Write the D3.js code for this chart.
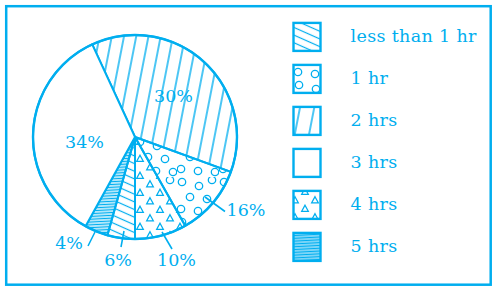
<!DOCTYPE html>
<html><head><meta charset="utf-8">
<script src="https://cdn.jsdelivr.net/npm/d3@7"></script>
<style>html,body{margin:0;padding:0;background:#fff;}svg{display:block;}</style>
</head><body>
<svg id="chart" width="498" height="289"></svg>
<script>
// ---- data (order around the pie, clockwise from the top-left boundary) ----
const categories   = ["2 hrs", "1 hr", "4 hrs", "less than 1 hr", "5 hrs", "3 hrs"];
const percentages  = [30, 16, 10, 6, 4, 34];
// slice sizes as drawn in the picture (degrees of arc)
const drawnDegrees = [134.8, 40.5, 29.5, 15.7, 13.3, 126.2];
const legendLabels = ["less than 1 hr", "1 hr", "2 hrs", "3 hrs", "4 hrs", "5 hrs"];
const percentLabels = percentages.map(p => p + "%");

// ---- layout / style ----
const C = "#00aeef";
const W = 498, H = 289;
const cx = 135, cy = 137, R = 102;
const startDeg = -24.8;
const FONT = "'DejaVu Serif', serif";

const svg = d3.select("#chart");
const defs = svg.append("defs");

const patternKind = {
  "2 hrs": "diag", "1 hr": "circles", "4 hrs": "tri",
  "less than 1 hr": "shallow", "5 hrs": "hlines", "3 hrs": "none"
};

function makePattern(id, kind, legend) {
  if (kind === "none") return;
  let p;
  if (kind === "diag") {
    const s = legend ? 14 : 12;
    p = defs.append("pattern").attr("id", id).attr("patternUnits", "userSpaceOnUse")
      .attr("width", s).attr("height", s).attr("patternTransform", "rotate(11)");
    p.append("line").attr("x1", s / 2).attr("x2", s / 2).attr("y1", -1).attr("y2", s + 1)
      .attr("stroke", C).attr("stroke-width", 1.4);
  } else if (kind === "shallow") {
    const s = 7;
    p = defs.append("pattern").attr("id", id).attr("patternUnits", "userSpaceOnUse")
      .attr("width", s).attr("height", s).attr("patternTransform", "rotate(24)");
    p.append("line").attr("x1", -1).attr("x2", s + 1).attr("y1", s / 2).attr("y2", s / 2)
      .attr("stroke", C).attr("stroke-width", 1.2);
  } else if (kind === "hlines") {
    const s = 2.8;
    p = defs.append("pattern").attr("id", id).attr("patternUnits", "userSpaceOnUse")
      .attr("width", 10).attr("height", s).attr("patternTransform", "rotate(-3)");
    p.append("line").attr("x1", -1).attr("x2", 11).attr("y1", s / 2).attr("y2", s / 2)
      .attr("stroke", C).attr("stroke-width", legend ? 1.9 : 1.5);
  } else if (kind === "circles") {
    p = defs.append("pattern").attr("id", id).attr("patternUnits", "userSpaceOnUse")
      .attr("width", 42).attr("height", 40);
    const pts = [[5,5],[22,9],[35,3],[13,20],[30,22],[4,32],[21,34],[38,35]];
    pts.forEach(([x, y]) => p.append("circle").attr("cx", x).attr("cy", y).attr("r", 3.7)
      .attr("fill", "none").attr("stroke", C).attr("stroke-width", 1.3));
  } else if (kind === "tri") {
    p = defs.append("pattern").attr("id", id).attr("patternUnits", "userSpaceOnUse")
      .attr("width", 20).attr("height", 17);
    [[5, 4.5], [15, 13]].forEach(([x, y]) => p.append("path")
      .attr("d", `M${x},${y - 3.3}L${x + 3.3},${y + 2.8}L${x - 3.3},${y + 2.8}Z`)
      .attr("fill", "none").attr("stroke", C).attr("stroke-width", 1.3));
  }
}

categories.forEach((c, i) => {
  makePattern("p" + i, patternKind[c], false);
  makePattern("lp" + i, patternKind[c], true);
});
const fillFor = (c, legend) => {
  const i = categories.indexOf(c);
  return patternKind[c] === "none" ? "#fff" : `url(#${legend ? "lp" : "p"}${i})`;
};

// frame
svg.append("rect").attr("x", 6.2).attr("y", 6.2).attr("width", 484.5).attr("height", 278.5)
  .attr("fill", "none").attr("stroke", C).attr("stroke-width", 2.5);

// ---- pie ----
const data = categories.map((c, i) => ({ cat: c, share: drawnDegrees[i], label: percentLabels[i] }));
const rad = d => d * Math.PI / 180;
const pie = d3.pie().sort(null).value(d => d.share)
  .startAngle(rad(startDeg)).endAngle(rad(startDeg + 360));
const arc = d3.arc().innerRadius(0).outerRadius(R);
const arcs = pie(data);

const g = svg.append("g").attr("transform", `translate(${cx},${cy})`);
g.selectAll("path.slice").data(arcs).join("path").attr("class", "slice")
  .attr("d", arc)
  .attr("fill", d => fillFor(d.data.cat, false))
  .attr("stroke", C).attr("stroke-width", 2).attr("stroke-linejoin", "round");
g.append("circle").attr("r", R).attr("fill", "none").attr("stroke", C).attr("stroke-width", 2.4);

// ---- percentage labels (offsets from pie centre) ----
const labelPos = {
  "2 hrs":          { t: [38.5, -35] },
  "3 hrs":          { t: [-50.5, 11] },
  "1 hr":           { t: [111, 79],  l: [[70, 60], [90, 74.5]] },
  "5 hrs":          { t: [-66, 112], l: [[-40, 95], [-47, 109]] },
  "less than 1 hr": { t: [-17, 129], l: [[-11, 94], [-14, 110]] },
  "4 hrs":          { t: [41.5, 129], l: [[27, 95], [37, 112]] }
};
arcs.forEach(a => {
  const lp = labelPos[a.data.cat];
  if (lp.l) {
    g.append("line").attr("x1", lp.l[0][0]).attr("y1", lp.l[0][1])
      .attr("x2", lp.l[1][0]).attr("y2", lp.l[1][1])
      .attr("stroke", C).attr("stroke-width", 1.6);
  }
  g.append("text").attr("x", lp.t[0]).attr("y", lp.t[1])
    .attr("text-anchor", "middle").attr("font-family", FONT).attr("font-size", 17.5)
    .attr("fill", C).text(a.data.label);
});

// ---- legend ----
const legendY = d3.scaleLinear().domain([0, legendLabels.length - 1]).range([22.9, 232.9]);
const lg = svg.append("g");
legendLabels.forEach((c, i) => {
  const y = legendY(i);
  lg.append("rect").attr("x", 293.5).attr("y", y).attr("width", 27).attr("height", 28)
    .attr("fill", fillFor(c, true)).attr("stroke", C).attr("stroke-width", 2.4);
  lg.append("text").attr("x", 350.5).attr("y", y + 19.5)
    .attr("font-family", FONT).attr("font-size", 17.5).attr("letter-spacing", 0.35)
    .attr("fill", C).text(c);
});
</script>
</body></html>
